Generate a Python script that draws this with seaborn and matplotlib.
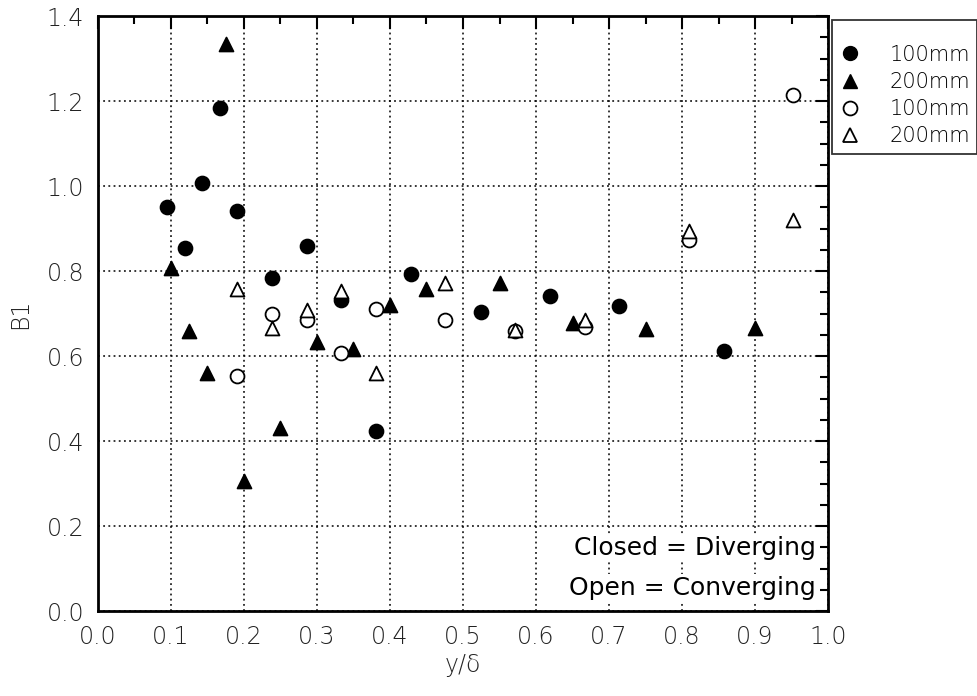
import matplotlib
matplotlib.use("Agg")
import matplotlib.pyplot as plt
from matplotlib.ticker import MultipleLocator, FormatStrFormatter
from matplotlib.lines import Line2D
import seaborn as sns
import pandas as pd

# Diverging (closed symbols)
div_100_x = [0.095, 0.119, 0.143, 0.167, 0.190, 0.238, 0.286, 0.333, 0.381, 0.429, 0.524, 0.619, 0.714, 0.857]
div_100_y = [0.950, 0.854, 1.007, 1.184, 0.942, 0.784, 0.858, 0.731, 0.423, 0.794, 0.703, 0.741, 0.717, 0.611]
div_200_x = [0.100, 0.125, 0.150, 0.175, 0.200, 0.250, 0.300, 0.350, 0.400, 0.450, 0.550, 0.650, 0.750, 0.900]
div_200_y = [0.806, 0.660, 0.560, 1.333, 0.306, 0.431, 0.633, 0.617, 0.721, 0.758, 0.772, 0.678, 0.663, 0.666]

# Converging (open symbols)
con_100_x = [0.190, 0.238, 0.286, 0.333, 0.381, 0.476, 0.571, 0.667, 0.810, 0.952]
con_100_y = [0.552, 0.700, 0.684, 0.607, 0.711, 0.684, 0.658, 0.668, 0.874, 1.213]
con_200_x = [0.190, 0.238, 0.286, 0.333, 0.381, 0.476, 0.571, 0.667, 0.810, 0.952]
con_200_y = [0.757, 0.666, 0.709, 0.754, 0.559, 0.772, 0.662, 0.684, 0.895, 0.921]

series_labels = ["100mm", "200mm", "100mm", "200mm"]

frames = []
for key, xs, ys in [("d100", div_100_x, div_100_y), ("d200", div_200_x, div_200_y),
                    ("c100", con_100_x, con_100_y), ("c200", con_200_x, con_200_y)]:
    frames.append(pd.DataFrame({"x": xs, "y": ys, "set": key}))
df = pd.concat(frames, ignore_index=True)

sns.set_theme(style="white")
plt.rcParams["font.family"] = ["DejaVu Sans"]

fig = plt.figure(figsize=(9.77, 6.96), dpi=100)
ax = fig.add_axes([0.1003, 0.1221, 0.7472, 0.8549])

styles = {
    "d100": dict(marker="o", facecolor="black", s=100),
    "d200": dict(marker="^", facecolor="black", s=100),
    "c100": dict(marker="o", facecolor="white", s=100),
    "c200": dict(marker="^", facecolor="white", s=100),
}
for key, st in styles.items():
    sub = df[df["set"] == key]
    sns.scatterplot(data=sub, x="x", y="y", ax=ax, marker=st["marker"], s=st["s"],
                    color=st["facecolor"], edgecolor="black", linewidth=1.3,
                    legend=False, zorder=3)

ax.set_xlim(0, 1.0)
ax.set_ylim(0, 1.4)
ax.xaxis.set_major_locator(MultipleLocator(0.1))
ax.xaxis.set_minor_locator(MultipleLocator(0.05))
ax.yaxis.set_major_locator(MultipleLocator(0.2))
ax.yaxis.set_minor_locator(MultipleLocator(0.05))
ax.xaxis.set_major_formatter(FormatStrFormatter("%.1f"))
ax.yaxis.set_major_formatter(FormatStrFormatter("%.1f"))

ax.grid(True, which="major", color="black", linestyle=(0, (1.2, 2.2)), linewidth=1.1)
ax.set_axisbelow(True)

for sp in ax.spines.values():
    sp.set_color("black")
    sp.set_linewidth(2.0)

ax.tick_params(which="both", direction="in", top=True, right=True, color="black",
               width=1.5, labelsize=17, labelcolor="#222222")
ax.tick_params(which="major", length=9, pad=10)
ax.tick_params(which="minor", length=6)
for lab in ax.get_xticklabels() + ax.get_yticklabels():
    lab.set_fontweight("light")

ax.set_xlabel("y/δ", fontsize=17, fontweight="light", labelpad=3)
ax.set_ylabel("B1", fontsize=17, fontweight="light", labelpad=10)

note_box = dict(facecolor="white", edgecolor="none", pad=1.0)
ax.text(0.983, 0.106, "Closed = Diverging", transform=ax.transAxes, ha="right",
        va="center", fontsize=18, color="black", bbox=note_box, zorder=4)
ax.text(0.983, 0.039, "Open = Converging", transform=ax.transAxes, ha="right",
        va="center", fontsize=18, color="black", bbox=note_box, zorder=4)

handles = [
    Line2D([], [], linestyle="none", marker="o", markersize=10, markerfacecolor="black", markeredgecolor="black"),
    Line2D([], [], linestyle="none", marker="^", markersize=10, markerfacecolor="black", markeredgecolor="black"),
    Line2D([], [], linestyle="none", marker="o", markersize=10, markerfacecolor="white", markeredgecolor="black", markeredgewidth=1.3),
    Line2D([], [], linestyle="none", marker="^", markersize=10, markerfacecolor="white", markeredgecolor="black", markeredgewidth=1.3),
]
leg = fig.legend(handles, series_labels, loc="upper left", bbox_to_anchor=(832 / 977, 1 - 20 / 696),
                 frameon=True, fancybox=False, edgecolor="black", fontsize=15,
                 title=" ", title_fontsize=8,
                 borderpad=0.35, handletextpad=1.4, labelspacing=0.35, handlelength=1.0,
                 borderaxespad=0)
leg.get_frame().set_linewidth(1.3)
for t in leg.get_texts():
    t.set_fontweight("light")
    t.set_color("black")

fig.savefig("out.png", dpi=100, facecolor="white")
